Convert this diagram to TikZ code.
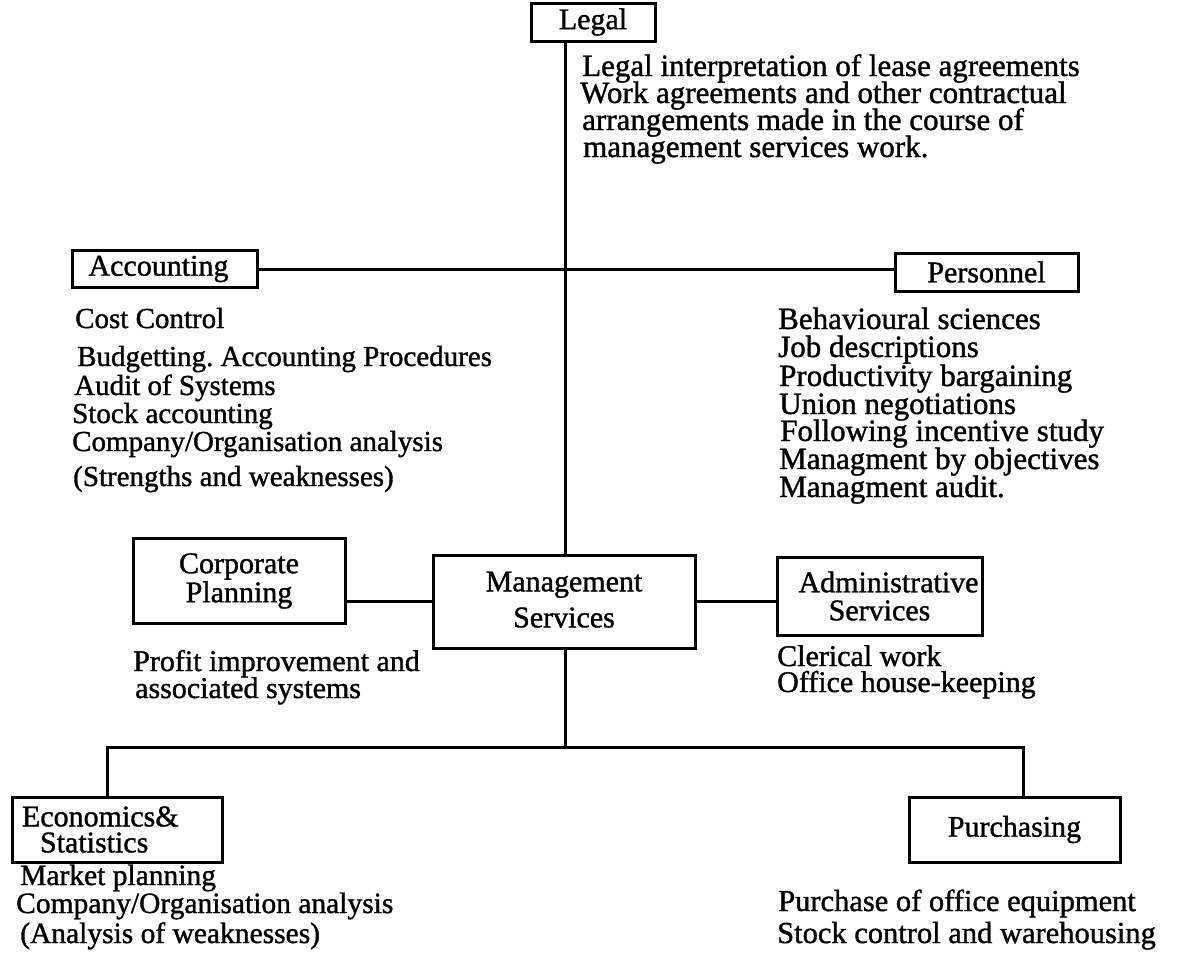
\documentclass[tikz,border=0pt]{standalone}
\usepackage{fontspec}
\setmainfont{Liberation Serif}[FakeBold=1.2]
\frenchspacing
\begin{document}
\begin{tikzpicture}[x=1pt,y=-1pt,
  every node/.style={font=\fontsize{30}{30}\selectfont},
  box/.style={draw, line width=3pt, inner sep=0pt, align=center},
  lbl/.style={anchor=base west, inner sep=0pt},
  conn/.style={line width=3pt}]
\useasboundingbox (0,0) rectangle (1180,977);
% boxes
\node[box, minimum width=124pt, minimum height=38pt] (legal) at (593,22) {\raisebox{-3pt}{Legal}};
\node[box, minimum width=185pt, minimum height=37pt] (acc) at (164.5,269) {\raisebox{-2pt}{Accounting}\hspace*{12pt}};
\node[box, minimum width=183pt, minimum height=38pt] (pers) at (986.5,272) {\raisebox{-2pt}{Personnel}};
\node[box, minimum width=212pt, minimum height=85pt, font=\fontsize{30}{29}\selectfont] (corp) at (239,581) {Corporate\\Planning};
\node[box, minimum width=262pt, minimum height=93pt, font=\fontsize{30}{36}\selectfont] (mgmt) at (564,601.5) {\raisebox{4pt}{Management}\\\raisebox{4pt}{Services}};
\node[box, minimum width=205pt, minimum height=78pt, font=\fontsize{30}{28}\selectfont] (adm) at (879.5,596) {\hspace*{18pt}Administrative\\Services};
\node[box, minimum width=210pt, minimum height=65pt, inner xsep=10pt, text width=190pt, font=\fontsize{30}{26}\selectfont, align=left] (econ) at (117,829.5) {Economics\&\\\hspace*{18pt}Statistics};
\node[box, minimum width=211pt, minimum height=65pt] (purch) at (1014.5,829.5) {Purchasing};
% helper coordinates
\coordinate (spine) at (565,0);
\coordinate (bus) at (0,747);
\coordinate (ebus) at (107,0);
\coordinate (pbus) at (1023,0);
% connectors
\draw[conn] (legal.south -| spine) -- (mgmt.north -| spine);
\draw[conn] (acc.east) -- (acc.east -| pers.west);
\draw[conn] (corp.east |- mgmt.west) -- (mgmt.west);
\draw[conn] (mgmt.east) -- (mgmt.east -| adm.west);
\draw[conn] (mgmt.south -| spine) -- (spine |- bus);
\draw[conn] (econ.north -| ebus) -- (ebus |- bus) -- (pbus |- bus) -- (purch.north -| pbus);
% legal text
\begin{scope}[every node/.style={font=\fontsize{31}{31}\selectfont}]
\node[lbl] (l1) at (582,76) {Legal interpretation of lease agreements};
\node[lbl] (l2) at (580,103) {Work agreements and other contractual};
\node[lbl] (l3) at (582,130) {arrangements made in the course of};
\node[lbl] (l4) at (583,157) {management services work.};
\end{scope}
% accounting text
\begin{scope}[every node/.style={font=\fontsize{29}{29}\selectfont}]
\node[lbl] (a1) at (75,328) {Cost Control};
\node[lbl] (a2) at (77,366) {Budgetting. Accounting Procedures};
\node[lbl] (a3) at (74,395) {Audit of Systems};
\node[lbl] (a4) at (72,423) {Stock accounting};
\node[lbl] (a5) at (72,451) {Company/Organisation analysis};
\node[lbl] (a6) at (73,486) {(Strengths and weaknesses)};
\end{scope}
% personnel text
\begin{scope}[every node/.style={font=\fontsize{31}{31}\selectfont}]
\node[lbl] (p1) at (778,329) {Behavioural sciences};
\node[lbl] (p2) at (778,357) {Job descriptions};
\node[lbl] (p3) at (779,386) {Productivity bargaining};
\node[lbl] (p4) at (779,414) {Union negotiations};
\node[lbl] (p5) at (780,441) {Following incentive study};
\node[lbl] (p6) at (779,469) {Managment by objectives};
\node[lbl] (p7) at (779,497) {Managment audit.};
\end{scope}
% corporate text
\node[lbl] (c1) at (133,671) {Profit improvement and};
\node[lbl] (c2) at (135,698) {associated systems};
% admin text
\node[lbl] (d1) at (777,666) {Clerical work};
\node[lbl] (d2) at (777,692) {Office house-keeping};
% economics text
\begin{scope}[every node/.style={font=\fontsize{29.5}{29.5}\selectfont}]
\node[lbl] (e1) at (20,885) {Market planning};
\node[lbl] (e2) at (16,913) {Company/Organisation analysis};
\node[lbl] (e3) at (20,943) {(Analysis of weaknesses)};
\end{scope}
% purchasing text
\begin{scope}[every node/.style={font=\fontsize{30.5}{30.5}\selectfont}]
\node[lbl] (u1) at (778,911) {Purchase of office equipment};
\node[lbl] (u2) at (777,943) {Stock control and warehousing};
\end{scope}
\end{tikzpicture}
\end{document}
